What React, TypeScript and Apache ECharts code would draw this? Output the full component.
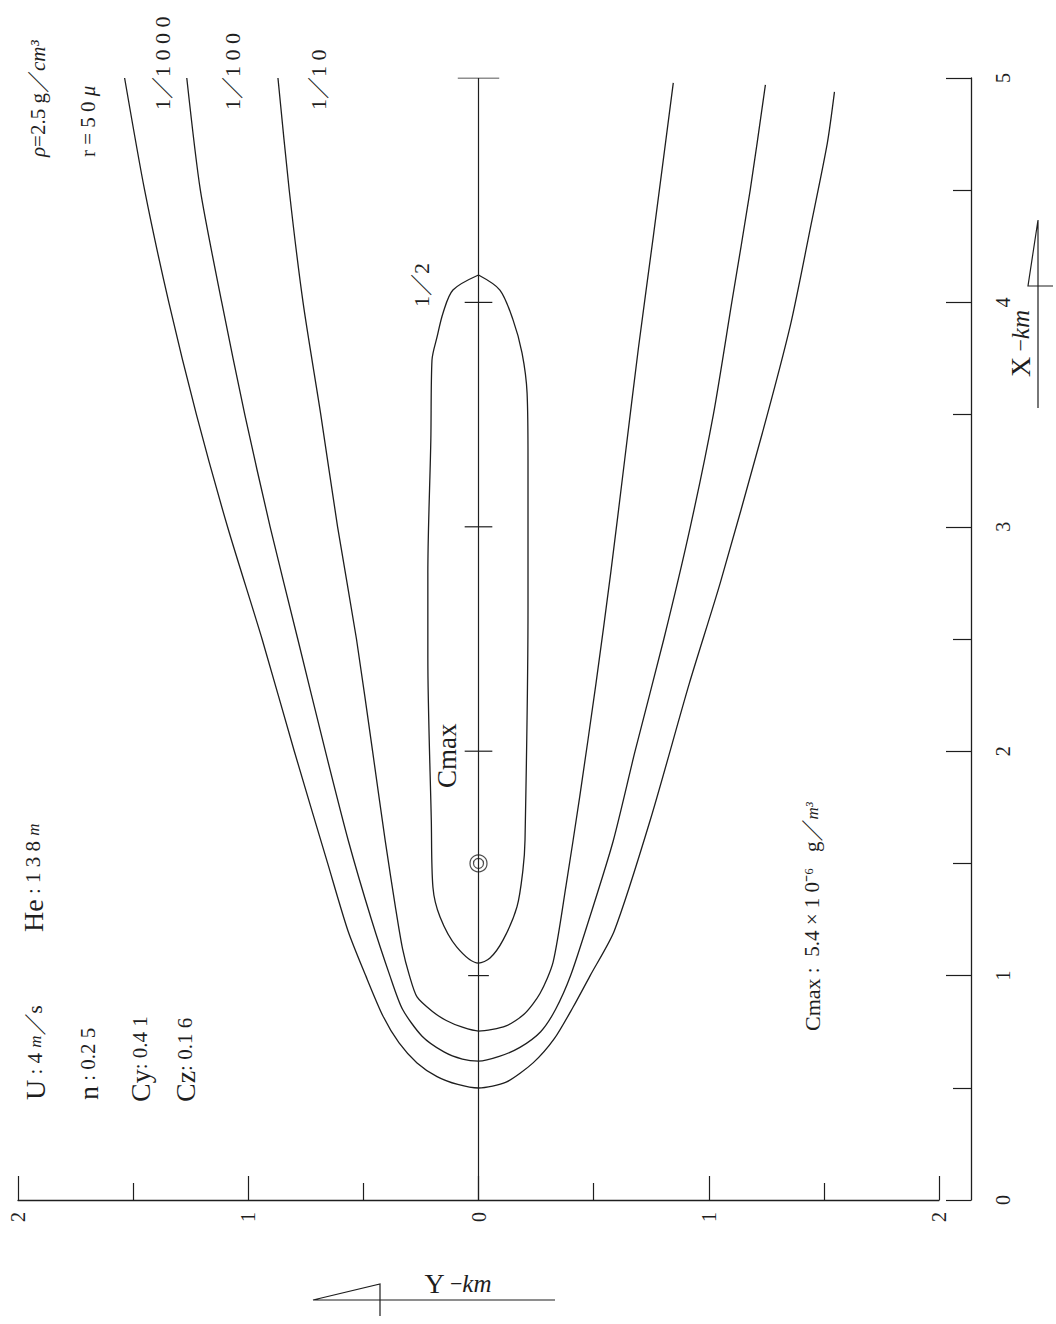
import React, { useEffect, useRef } from "react";
import * as echarts from "echarts";

// Axis ticks / labels
const downwindTickValues = [0, 1, 2, 3, 4, 5];
const downwindTickLabels = ["0", "1", "2", "3", "4", "5"];
const crosswindTickValues = [-2, -1, 0, 1, 2];
const crosswindTickLabels = ["2", "1", "0", "1", "2"];

// Contours: [Y crosswind km, X downwind km]
const contour1000 = [
  [-1.537, 5.0], [-1.45, 4.5], [-1.345, 4.0], [-1.225, 3.5], [-1.09, 3.0],
  [-0.94, 2.5], [-0.8, 2.0], [-0.655, 1.5], [-0.567, 1.2], [-0.49, 1.0],
  [-0.415, 0.82], [-0.345, 0.7], [-0.267, 0.611], [-0.18, 0.55], [-0.09, 0.515],
  [0, 0.499], [0.12, 0.525], [0.237, 0.611], [0.33, 0.72], [0.411, 0.86],
  [0.485, 1.0], [0.59, 1.2], [0.748, 1.7], [0.915, 2.3], [1.05, 2.75],
  [1.228, 3.4], [1.355, 3.9], [1.445, 4.35], [1.515, 4.71], [1.546, 4.938],
];
const contour100 = [
  [-1.267, 5.0], [-1.208, 4.5], [-1.115, 4.0], [-1.015, 3.5], [-0.905, 3.0],
  [-0.785, 2.5], [-0.665, 2.0], [-0.565, 1.6], [-0.465, 1.25], [-0.385, 1.0],
  [-0.33, 0.85], [-0.245, 0.73], [-0.15, 0.66], [-0.07, 0.628], [0, 0.619],
  [0.09, 0.64], [0.18, 0.68], [0.27, 0.75], [0.335, 0.85], [0.4, 1.0],
  [0.48, 1.25], [0.585, 1.6], [0.68, 2.0], [0.805, 2.5], [0.92, 3.0],
  [1.02, 3.5], [1.1, 4.0], [1.18, 4.5], [1.246, 4.969],
];
const contour10 = [
  [-0.871, 5.0], [-0.822, 4.5], [-0.762, 4.0], [-0.685, 3.5], [-0.612, 3.0],
  [-0.53, 2.5], [-0.46, 2.0], [-0.405, 1.6], [-0.36, 1.3], [-0.33, 1.12],
  [-0.3, 1.0], [-0.267, 0.905], [-0.2, 0.84], [-0.14, 0.8], [-0.07, 0.77],
  [0, 0.753], [0.12, 0.776], [0.2, 0.83], [0.267, 0.92], [0.324, 1.06],
  [0.38, 1.4], [0.44, 1.8], [0.51, 2.3], [0.575, 2.8], [0.635, 3.3],
  [0.695, 3.8], [0.76, 4.3], [0.846, 4.978],
];
const contourHalf = [
  [0, 4.122], [0.093, 4.055], [0.15, 3.922], [0.189, 3.775], [0.211, 3.596],
  [0.215, 3.298], [0.215, 2.643], [0.202, 1.604], [0.193, 1.471], [0.167, 1.306],
  [0.107, 1.159], [0.05, 1.078], [0, 1.056], [-0.095, 1.128], [-0.167, 1.261],
  [-0.198, 1.395], [-0.205, 1.693], [-0.22, 2.42], [-0.22, 2.794], [-0.207, 3.387],
  [-0.202, 3.743], [-0.18, 3.846], [-0.154, 3.953], [-0.111, 4.055], [0, 4.122],
];
const centerLine = [[0, 0], [0, 5]];
const centerTickX = [1, 2, 3, 4, 5];
const centerTickHalfWidth = [0.045, 0.06, 0.06, 0.06, 0.09];
const cmaxPoint = [0, 1.5];

const SERIF = '"Liberation Serif", "Times New Roman", "Noto Sans CJK JP", serif';
const INK = "#1e1e1e";

const rich = {
  L: { fontSize: 28, fontFamily: SERIF, fill: INK },
  C: { fontSize: 27, fontFamily: SERIF, fill: INK },
  M: { fontSize: 22, fontFamily: SERIF, fill: INK },
  D: { fontSize: 22, fontFamily: SERIF, fill: INK },
  d: { fontSize: 21, fontFamily: SERIF, fill: INK },
  i: { fontSize: 21, fontFamily: SERIF, fontStyle: "italic", fill: INK },
  k: { fontSize: 25, fontFamily: SERIF, fontStyle: "italic", fill: INK },
  m: { fontSize: 17, fontFamily: SERIF, fontStyle: "italic", fill: INK },
};

function vtext(x: number, y: number, text: string) {
  return {
    type: "text",
    x,
    y,
    rotation: Math.PI / 2,
    silent: true,
    style: {
      text,
      fill: INK,
      fontFamily: SERIF,
      fontSize: 21,
      align: "left",
      verticalAlign: "middle",
      textAlign: "left",
      textVerticalAlign: "middle",
      rich,
    },
  };
}

export default function App() {
  const ref = useRef<HTMLDivElement>(null);
  useEffect(() => {
    if (!ref.current) return;
    const chart = echarts.init(ref.current, undefined, { renderer: "svg" });
    const lineStyle = { color: INK, width: 1.3 };
    const curve = (name: string, data: number[][], smooth = 0.25) => ({
      name,
      type: "line",
      data,
      symbol: "none",
      smooth,
      silent: true,
      lineStyle,
    });
    const tickSeries = centerTickX.map((x, i) => ({
      type: "line",
      data: [[-centerTickHalfWidth[i], x], [centerTickHalfWidth[i], x]],
      symbol: "none",
      silent: true,
      lineStyle: { color: INK, width: 1.2 },
    }));

    chart.setOption({
      animation: false,
      backgroundColor: "#ffffff",
      grid: { left: 18, right: 117, top: 78, bottom: 124, containLabel: false },
      xAxis: {
        type: "value",
        min: -2,
        max: 2,
        interval: 1,
        position: "bottom",
        axisLine: { show: true, onZero: false, lineStyle: { color: INK, width: 1.3 } },
        axisTick: { show: true, inside: true, length: 24, lineStyle: { color: INK, width: 1.2 } },
        minorTick: { show: true, splitNumber: 2, length: 17, lineStyle: { color: INK, width: 1.2 } },
        axisLabel: {
          rotate: 90,
          margin: 12,
          fontFamily: SERIF,
          fontSize: 20,
          color: INK,
          formatter: (v: number) => {
            const i = crosswindTickValues.indexOf(v);
            return i >= 0 ? crosswindTickLabels[i] : "";
          },
        },
        splitLine: { show: false },
      },
      yAxis: {
        type: "value",
        min: 0,
        max: 5,
        interval: 1,
        position: "right",
        offset: 32,
        axisLine: { show: true, onZero: false, lineStyle: { color: INK, width: 1.3 } },
        axisTick: { show: true, inside: true, length: 25, lineStyle: { color: INK, width: 1.2 } },
        minorTick: { show: true, splitNumber: 2, length: 18, lineStyle: { color: INK, width: 1.2 } },
        axisLabel: {
          rotate: 90,
          margin: 22,
          fontFamily: SERIF,
          fontSize: 20,
          color: INK,
          formatter: (v: number) => {
            const i = downwindTickValues.indexOf(v);
            return i >= 0 ? downwindTickLabels[i] : "";
          },
        },
        splitLine: { show: false },
      },
      series: [
        curve("1/1000", contour1000),
        curve("1/100", contour100),
        curve("1/10", contour10),
        curve("1/2", contourHalf, 0.3),
        { type: "line", data: centerLine, symbol: "none", silent: true, lineStyle: { color: INK, width: 1.2 } },
        ...tickSeries,
        {
          type: "scatter",
          data: [cmaxPoint],
          symbol: "circle",
          symbolSize: 17,
          silent: true,
          itemStyle: { color: "transparent", borderColor: INK, borderWidth: 1.2 },
        },
        {
          type: "scatter",
          data: [cmaxPoint],
          symbol: "circle",
          symbolSize: 10,
          silent: true,
          itemStyle: { color: "transparent", borderColor: INK, borderWidth: 1.2 },
        },
      ],
      graphic: [
        vtext(38, 157, "{i|ρ}{d|=2.5 g}{D|／}{i|cm³}"),
        vtext(88, 157, "{d|r = 5 0 }{i|μ}"),
        vtext(162, 110, "{D|1／1 0 0 0}"),
        vtext(232, 110, "{D|1／1 0 0}"),
        vtext(318, 110, "{D|1／1 0}"),
        vtext(421, 307, "{D|1／2}"),
        vtext(447, 788, "{C|Cmax}"),
        vtext(35, 1100, "{L|U} {d|: 4 }{m|m}{D|／}{d|s}"),
        vtext(33, 932, "{L|He}{d| : 1 3 8 }{m|m}"),
        vtext(88, 1100, "{L|n}{d| : 0.2 5}"),
        vtext(140, 1102, "{L|Cy}{d|: 0.4 1}"),
        vtext(185, 1102, "{L|Cz}{d|: 0.1 6}"),
        vtext(812, 1031, "{M|Cmax}{d| :  5.4 × 1 0⁻⁶   g}{D|／}{m|m³}"),
        vtext(1020, 377, "{L|X} {D|−}{k|km}"),
        {
          type: "text",
          x: 458,
          y: 1283,
          silent: true,
          style: {
            text: "{L|Y} {D|−}{k|km}",
            fill: INK,
            fontFamily: SERIF,
            fontSize: 21,
            align: "center",
            verticalAlign: "middle",
            textAlign: "center",
            textVerticalAlign: "middle",
            rich,
          },
        },
        {
          type: "polyline",
          silent: true,
          shape: { points: [[1038, 408], [1038, 220], [1028, 286], [1053, 286]] },
          style: { stroke: INK, lineWidth: 1.2, fill: "none" },
        },
        {
          type: "polyline",
          silent: true,
          shape: { points: [[555, 1300], [313, 1300], [380, 1284], [380, 1316]] },
          style: { stroke: INK, lineWidth: 1.2, fill: "none" },
        },
      ],
    });
    return () => chart.dispose();
  }, []);
  return (
    <div
      ref={ref}
      style={{ position: "absolute", left: 0, top: 0, width: 1056, height: 1324, background: "#fff" }}
    />
  );
}
